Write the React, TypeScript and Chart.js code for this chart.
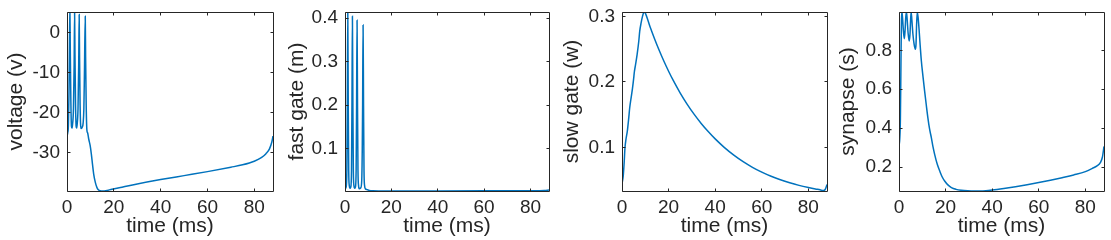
import React, { useEffect, useRef } from 'react';
import { Chart, registerables } from 'chart.js';

Chart.register(...registerables);

const FONT = "'Liberation Sans', Arial, Helvetica, sans-serif";
const TEXT_COLOR = '#262626';
const LINE_COLOR = '#0072BD';

// ---------- shared x axis ----------
const X_MIN = 0;
const X_MAX = 88;
const xTicks = [0, 20, 40, 60, 80];
const xTickLabels = ['0', '20', '40', '60', '80'];
const xLabel = 'time (ms)';

// ---------- voltage (v) ----------
const tV = [
  0, 0.3, 0.6, 0.85, 1.05, 1.25, 1.4, 1.65, 1.9, 2.1,
  2.35, 2.75, 3.05, 3.25, 3.4, 3.65, 3.9, 4.1,
  4.35, 4.7, 5.0, 5.2, 5.35, 5.6, 5.85, 6.1,
  6.5, 6.9, 7.2, 7.45, 7.8, 7.95, 8.2, 8.5, 8.8,
  9.3, 9.9, 10.4, 10.9, 11.4, 12.1, 12.8, 13.5, 14.2, 15.2, 16.5,
  19.2, 23.5, 30, 40, 50, 60, 70, 75, 80, 83, 85, 86.5, 87.5, 88,
];
const vVals = [
  -25.8, -25.0, -23.0, -15, -3, 5.3, -4, -17, -23.3, -23.8,
  -23.0, -19, -8, 5.0, -5, -18, -23.3, -23.8,
  -22.8, -19, -8, 4.6, -5, -18, -23.3, -23.9,
  -23.6, -22.5, -19, -10, 4.2, -6, -18, -24.3, -25.0,
  -26.6, -28.2, -30.3, -32.9, -35.3, -37.4, -38.7, -39.3, -39.5, -39.55, -39.5,
  -39.1, -38.6, -37.8, -36.7, -35.7, -34.7, -33.6, -33.0, -32.1, -31.2, -30.2, -29.0, -27.3, -25.8,
];
const vTicks = [-30, -20, -10, 0];
const vTickLabels = ['-30', '-20', '-10', '0'];
const vLabel = 'voltage (v)';

// ---------- fast gate (m) ----------
const tM = [
  0, 0.5, 0.8, 1.0, 1.2, 1.4, 1.6, 1.85, 2.1,
  2.5, 2.8, 3.0, 3.2, 3.4, 3.6, 3.85, 4.1,
  4.5, 4.8, 5.0, 5.2, 5.4, 5.6, 5.85, 6.1,
  6.8, 7.2, 7.45, 7.6, 7.8, 8.0, 8.2, 8.45, 8.8,
  9.5, 10.5, 12, 15, 20, 40, 60, 80, 86, 88,
];
const mVals = [
  0.008, 0.012, 0.05, 0.2, 0.414, 0.2, 0.05, 0.015, 0.009,
  0.012, 0.05, 0.2, 0.4045, 0.2, 0.05, 0.015, 0.009,
  0.012, 0.05, 0.2, 0.395, 0.2, 0.05, 0.015, 0.008,
  0.01, 0.025, 0.1, 0.2, 0.384, 0.2, 0.05, 0.015, 0.008,
  0.006, 0.004, 0.0032, 0.003, 0.0029, 0.003, 0.0032, 0.0036, 0.0042, 0.005,
];
const mTicks = [0.1, 0.2, 0.3, 0.4];
const mTickLabels = ['0.1', '0.2', '0.3', '0.4'];
const mLabel = 'fast gate (m)';

// ---------- slow gate (w) ----------
const tW = [
  0, 0.5, 0.9, 1.3, 1.7, 2.3, 2.9, 3.3, 3.8, 4.5, 5.0, 5.3, 5.8, 6.5, 7.2, 7.6, 8.2, 8.8, 9.5,
  10, 12, 14, 16, 18, 20, 22, 25, 28, 31, 34, 37, 40, 44, 48, 52, 56, 60, 64, 68, 72, 76, 80,
  83, 85, 86.5, 87.3, 88,
];
const wVals = [
  0.045, 0.055, 0.075, 0.1, 0.112, 0.125, 0.145, 0.16, 0.173, 0.19, 0.205, 0.215, 0.226, 0.242, 0.262, 0.277, 0.29, 0.3, 0.3067,
  0.305, 0.2845, 0.2655, 0.2478, 0.2314, 0.2162, 0.2021, 0.1828, 0.1656, 0.1502, 0.1364, 0.124, 0.1128, 0.0995, 0.088, 0.078, 0.0694, 0.062, 0.0557, 0.0503, 0.0457, 0.0418, 0.0385,
  0.0363, 0.035, 0.0338, 0.036, 0.043,
];
const wTicks = [0.1, 0.2, 0.3];
const wTickLabels = ['0.1', '0.2', '0.3'];
const wLabel = 'slow gate (w)';

// ---------- synapse (s) ----------
const tS = [
  0, 0.3, 0.6, 0.85, 1.05, 1.25, 1.5, 1.9, 2.3, 2.6, 2.9, 3.2, 3.5, 3.9, 4.4, 4.7, 5.0, 5.2,
  5.5, 6.0, 6.5, 7.0, 7.3, 7.55, 7.85, 8.2, 8.6, 9.0, 9.6, 10.3, 11.0, 11.7, 12.4, 13.1, 13.9,
  14.6, 15.3, 16.4, 17.5, 18.5, 19.6, 21, 22.5, 24.5, 26.8, 29.5, 32.5, 36, 40, 45, 50, 55, 60,
  65, 70, 75, 80, 83, 85, 86.5, 87.3, 88,
];
const sVals = [
  0.31, 0.34, 0.45, 0.75, 0.95, 0.997, 0.97, 0.9, 0.86, 0.9, 0.97, 0.997, 0.96, 0.89, 0.848, 0.88, 0.96, 0.997,
  0.96, 0.88, 0.83, 0.805, 0.83, 0.93, 0.997, 0.97, 0.91, 0.84, 0.745, 0.665, 0.59, 0.52, 0.453, 0.397, 0.35,
  0.303, 0.265, 0.215, 0.179, 0.15, 0.128, 0.108, 0.094, 0.085, 0.08, 0.0775, 0.0766, 0.0772, 0.082, 0.09, 0.099, 0.109, 0.12,
  0.132, 0.145, 0.159, 0.176, 0.193, 0.206, 0.224, 0.25, 0.306,
];
const sTicks = [0.2, 0.4, 0.6, 0.8];
const sTickLabels = ['0.2', '0.4', '0.6', '0.8'];
const sLabel = 'synapse (s)';

// ---------- layout ----------
const PAGE_W = 1111;
const PAGE_H = 240;
const PLOT_TOP = 12;
const PLOT_BOTTOM = 191;
const TICK_FONT = 19;
const TITLE_FONT = 21;
const TITLE_LH = TITLE_FONT * 1.2;

type Spec = {
  t: number[];
  y: number[];
  yMin: number;
  yMax: number;
  yTicks: number[];
  yTickLabels: string[];
  yLabel: string;
  canvasLeft: number;
  canvasWidth: number;
  plotLeft: number;
  plotRight: number;
  yTitleMid: number;
};

const specs: Spec[] = [
  { t: tV, y: vVals, yMin: -39.55, yMax: 5.25, yTicks: vTicks, yTickLabels: vTickLabels, yLabel: vLabel,
    canvasLeft: 0, canvasWidth: 280, plotLeft: 67, plotRight: 273, yTitleMid: 16.7 },
  { t: tM, y: mVals, yMin: 0.0028, yMax: 0.414, yTicks: mTicks, yTickLabels: mTickLabels, yLabel: mLabel,
    canvasLeft: 280, canvasWidth: 276, plotLeft: 345, plotRight: 549, yTitleMid: 297.7 },
  { t: tW, y: wVals, yMin: 0.0332, yMax: 0.3067, yTicks: wTicks, yTickLabels: wTickLabels, yLabel: wLabel,
    canvasLeft: 556, canvasWidth: 279, plotLeft: 622, plotRight: 827, yTitleMid: 572.7 },
  { t: tS, y: sVals, yMin: 0.0766, yMax: 0.997, yTicks: sTicks, yTickLabels: sTickLabels, yLabel: sLabel,
    canvasLeft: 835, canvasWidth: 276, plotLeft: 899, plotRight: 1104, yTitleMid: 848.7 },
];

const boxPlugin = {
  id: 'matlabBox',
  afterDraw(chart: any) {
    const { ctx, chartArea: a, scales } = chart;
    const l = Math.floor(a.left) + 0.5;
    const r = Math.floor(a.right) + 0.5;
    const t = Math.floor(a.top) + 0.5;
    const b = Math.floor(a.bottom) + 0.5;
    const TL = 3;
    ctx.save();
    ctx.strokeStyle = TEXT_COLOR;
    ctx.lineWidth = 1;
    ctx.beginPath();
    ctx.rect(l, t, r - l, b - t);
    for (const tk of scales.x.ticks) {
      const px = Math.floor(scales.x.getPixelForValue(tk.value)) + 0.5;
      ctx.moveTo(px, b);
      ctx.lineTo(px, b - TL);
      ctx.moveTo(px, t);
      ctx.lineTo(px, t + TL);
    }
    for (const tk of scales.y.ticks) {
      const py = Math.floor(scales.y.getPixelForValue(tk.value)) + 0.5;
      ctx.moveTo(l, py);
      ctx.lineTo(l + TL, py);
      ctx.moveTo(r, py);
      ctx.lineTo(r - TL, py);
    }
    ctx.stroke();
    ctx.restore();
  },
};

function Panel({ spec }: { spec: Spec }) {
  const ref = useRef<HTMLCanvasElement>(null);
  useEffect(() => {
    const c = ref.current;
    if (!c) return;
    const yAxisW = spec.plotLeft - spec.canvasLeft;
    const padRight = spec.canvasLeft + spec.canvasWidth - spec.plotRight;
    const yTitlePad = spec.yTitleMid - spec.canvasLeft - TITLE_LH / 2;
    const chart = new Chart(c, {
      type: 'line',
      data: {
        datasets: [
          {
            data: spec.t.map((t, i) => ({ x: t, y: spec.y[i] })),
            borderColor: LINE_COLOR,
            borderWidth: 1.5,
            pointRadius: 0,
            fill: false,
            cubicInterpolationMode: 'monotone',
          },
        ],
      },
      options: {
        responsive: false,
        animation: false,
        devicePixelRatio: 1,
        events: [],
        layout: { padding: { top: PLOT_TOP, right: padRight, left: 0, bottom: 0 } },
        plugins: { legend: { display: false }, tooltip: { enabled: false } },
        scales: {
          x: {
            type: 'linear',
            position: 'bottom',
            min: X_MIN,
            max: X_MAX,
            grid: { display: false, drawTicks: false },
            border: { display: false },
            ticks: {
              autoSkip: false,
              maxRotation: 0,
              padding: 5,
              color: TEXT_COLOR,
              font: { family: FONT, size: TICK_FONT },
              callback: (v: any) => {
                const i = xTicks.indexOf(Number(v));
                return i >= 0 ? xTickLabels[i] : String(v);
              },
            },
            afterBuildTicks: (s: any) => {
              s.ticks = xTicks.map((v) => ({ value: v }));
            },
            afterFit: (s: any) => {
              s.height = PAGE_H - PLOT_BOTTOM;
              s.paddingLeft = 0;
              s.paddingRight = 0;
            },
            title: {
              display: true,
              text: xLabel,
              color: TEXT_COLOR,
              font: { family: FONT, size: TITLE_FONT },
              padding: { top: 0, bottom: 1.2 },
            },
          },
          y: {
            type: 'linear',
            position: 'left',
            min: spec.yMin,
            max: spec.yMax,
            grid: { display: false, drawTicks: false },
            border: { display: false },
            ticks: {
              autoSkip: false,
              padding: 7,
              color: TEXT_COLOR,
              font: { family: FONT, size: TICK_FONT },
              callback: (v: any) => {
                const i = spec.yTicks.indexOf(Number(v));
                return i >= 0 ? spec.yTickLabels[i] : String(v);
              },
            },
            afterBuildTicks: (s: any) => {
              s.ticks = spec.yTicks.map((v) => ({ value: v }));
            },
            afterFit: (s: any) => {
              s.width = yAxisW;
              s.paddingTop = 0;
              s.paddingBottom = 0;
            },
            title: {
              display: true,
              text: spec.yLabel,
              color: TEXT_COLOR,
              font: { family: FONT, size: TITLE_FONT },
              padding: { top: yTitlePad, bottom: 0 },
            },
          },
        },
      } as any,
      plugins: [boxPlugin],
    });
    return () => chart.destroy();
  }, [spec]);
  return (
    <canvas
      ref={ref}
      width={spec.canvasWidth}
      height={PAGE_H}
      style={{ position: 'absolute', left: spec.canvasLeft, top: 0, display: 'block', width: spec.canvasWidth, height: PAGE_H }}
    />
  );
}

export default function App() {
  return (
    <div style={{ position: 'absolute', left: 0, top: 0, width: PAGE_W, height: PAGE_H, background: '#ffffff', overflow: 'hidden' }}>
      {specs.map((s, i) => (
        <Panel key={i} spec={s} />
      ))}
    </div>
  );
}
